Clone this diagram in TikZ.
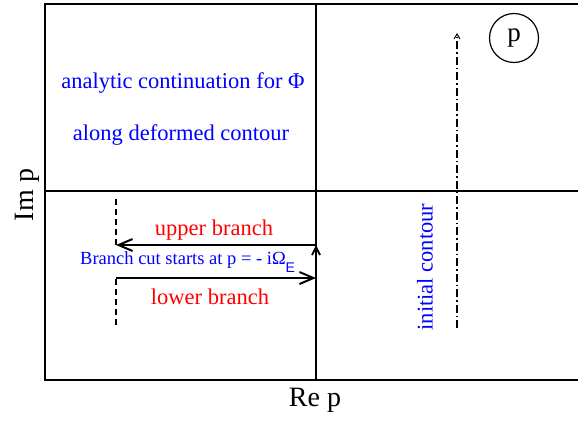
\documentclass[tikz,border=0pt]{standalone}
\usepackage{fontspec}
\setmainfont{Liberation Serif}
\newfontfamily\subsans{Liberation Sans}
\usetikzlibrary{arrows.meta}

\begin{document}
\begin{tikzpicture}[x=1pt, y=-1pt, every node/.style={inner sep=0pt, align=center}]
\tikzset{
  frameline/.style={line width=1.2pt},
  branch/.style={line width=2.2pt, -{Straight Barb[length=14pt, width=12pt, line width=2pt]}},
  cutstep/.style={line width=2.4pt, -{Straight Barb[length=8pt, width=8pt, line width=1.8pt]}},
  sheetlink/.style={line width=1.1pt, dash pattern=on 6pt off 4pt},
  contour/.style={line width=1.1pt, dash pattern=on 8pt off 3pt on 1.5pt off 3pt, -{Straight Barb[length=5pt, width=6pt, line width=1pt]}},
  bluetext/.style={text=blue, font=\fontsize{22.5}{26}\selectfont},
  redtext/.style={text=red, font=\fontsize{22.5}{26}\selectfont},
  axislabel/.style={font=\fontsize{28}{32}\selectfont},
  planemark/.style={draw, circle, line width=1.2pt, minimum size=49pt, font=\fontsize{27}{30}\selectfont}
}
\useasboundingbox (0,0) rectangle (578,423);

% frame and axes
\coordinate (tl) at (45,4);
\coordinate (tr) at (578,4);
\coordinate (bl) at (45,380);
\coordinate (br) at (578,380);
\coordinate (ml) at (45,191);
\coordinate (mr) at (578,191);
\coordinate (mt) at (316,4);
\coordinate (mb) at (316,380);
\draw[frameline] (tr) -- (tl) -- (bl) -- (br);
\draw[frameline] (ml) -- (mr);
\draw[frameline] (mt) -- (mb);

\node[axislabel] (rep) at (315,400) {Re p};
\node[axislabel, rotate=90] (imp) at (27,195) {Im p};
\node[planemark] (pmark) at (514,38) {p};

% texts
\node[bluetext] (analytic) at (183,83) {analytic continuation for Φ};
\node[bluetext] (along) at (181,135) {along deformed contour};
\node[redtext] (upper) at (214,230) {upper branch};
\node[redtext] (lower) at (210,297) {lower branch};
\node[text=blue, font=\fontsize{18.5}{22}\selectfont, anchor=base west] (cut) at (80,264)
  {Branch cut starts at p = - iΩ\raisebox{-8pt}{\subsans\fontsize{14}{15}\selectfont E}};
\node[bluetext, rotate=90] (initial) at (425,267) {initial contour};

% branches
\coordinate (lowEnd) at (116,325);
\coordinate (lowStart) at (116,278);
\coordinate (cutLow) at (316,278);
\coordinate (cutUp) at (316,245);
\coordinate (upStart) at (116,245);
\coordinate (upEnd) at (116,197);
\draw[sheetlink] (lowEnd) -- (lowStart);
\draw[branch] (lowStart) -- (cutLow);
\draw[cutstep] (cutLow) -- (cutUp);
\draw[branch] (cutUp) -- (upStart);
\draw[sheetlink] (upStart) -- (upEnd);

% initial contour
\coordinate (ctStart) at (457,328);
\coordinate (ctEnd) at (457,33);
\draw[contour] (ctStart) -- (ctEnd);
\end{tikzpicture}
\end{document}
